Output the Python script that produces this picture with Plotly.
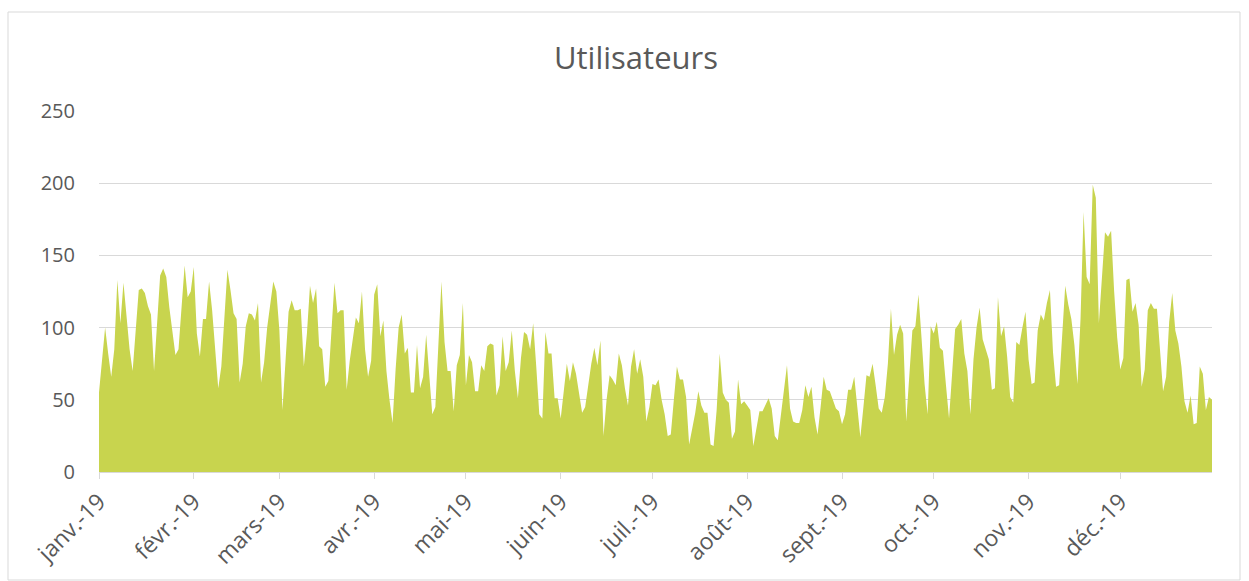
import plotly.graph_objects as go
import pandas as pd

# Daily users, 2019
jan = [55, 78, 100, 82, 66, 85, 133, 103, 131, 108, 85, 70, 95, 126, 127, 124, 115, 109, 70, 105, 136, 141, 135, 114, 98, 81, 85, 115, 143, 121, 125]
feb = [142, 96, 80, 106, 106, 132, 112, 84, 58, 73, 110, 140, 126, 110, 106, 62, 75, 101, 110, 109, 105, 117, 62, 76, 100, 116, 132, 125]
mar = [98, 43, 77, 111, 119, 112, 112, 113, 73, 96, 129, 117, 127, 87, 85, 59, 63, 96, 131, 110, 112, 112, 57, 77, 91, 107, 103, 125, 85, 66, 77]
apr = [123, 130, 94, 105, 70, 50, 34, 71, 100, 109, 82, 86, 55, 55, 88, 58, 66, 95, 65, 40, 45, 88, 132, 90, 70, 70, 42, 74, 81, 117]
may = [60, 81, 76, 56, 56, 74, 70, 87, 89, 88, 53, 60, 94, 70, 76, 98, 70, 51, 79, 97, 95, 85, 103, 73, 40, 37, 97, 82, 82, 51, 51]
jun = [37, 58, 75, 63, 76, 68, 55, 41, 45, 62, 75, 86, 74, 91, 25, 50, 67, 64, 60, 82, 74, 58, 46, 73, 85, 68, 78, 66, 35, 45]
jul = [61, 60, 64, 50, 40, 25, 26, 50, 73, 64, 64, 52, 19, 30, 41, 56, 46, 41, 41, 19, 18, 43, 82, 55, 50, 48, 23, 28, 64, 47, 49]
aug = [46, 43, 18, 30, 42, 42, 47, 51, 44, 25, 22, 40, 55, 74, 44, 35, 34, 34, 43, 60, 52, 59, 38, 26, 45, 66, 57, 56, 50, 44, 42]
sep = [33, 40, 57, 57, 66, 45, 24, 45, 67, 66, 75, 60, 44, 41, 52, 75, 113, 81, 95, 102, 96, 35, 65, 98, 101, 123, 93, 61, 40, 101]
oct_ = [96, 104, 86, 84, 60, 37, 68, 99, 102, 106, 82, 70, 40, 78, 100, 114, 92, 85, 78, 57, 58, 121, 94, 101, 80, 52, 48, 90, 88, 100, 111]
nov = [78, 61, 62, 98, 109, 105, 117, 126, 83, 59, 60, 97, 129, 116, 106, 88, 61, 106, 180, 135, 130, 199, 190, 103, 134, 166, 163, 167, 125, 93]
dec = [71, 79, 133, 134, 111, 117, 102, 59, 71, 112, 117, 113, 113, 87, 56, 66, 104, 124, 98, 89, 73, 49, 41, 53, 33, 34, 73, 68, 43, 52, 50]

users = jan + feb + mar + apr + may + jun + jul + aug + sep + oct_ + nov + dec
dates = pd.date_range("2019-01-01", periods=len(users), freq="D")

tick_dates = pd.date_range("2019-01-01", periods=12, freq="MS")
tick_labels = ["janv.-19", "févr.-19", "mars-19", "avr.-19", "mai-19", "juin-19",
               "juil.-19", "août-19", "sept.-19", "oct.-19", "nov.-19", "déc.-19"]
y_ticks = [0, 50, 100, 150, 200, 250]

GREEN = "#c8d44e"
GRID = "#d9d9d9"
TEXT = "#595959"
FONT = "Open Sans, Lato, sans-serif"

fig = go.Figure()
fig.add_trace(go.Scatter(
    x=dates, y=users, mode="lines", fill="tozeroy",
    line=dict(width=0, color=GREEN), fillcolor=GREEN,
    hoverinfo="x+y", showlegend=False,
))

W, H = 1249, 581
ml, mr, mt, mb = 99, 37, 111, 109
pw, ph = W - ml - mr, H - mt - mb

fig.update_layout(
    width=W, height=H, autosize=False,
    margin=dict(l=ml, r=mr, t=mt, b=mb, pad=0),
    paper_bgcolor="white", plot_bgcolor="white",
    font=dict(family=FONT, color=TEXT),
    title=dict(text="Utilisateurs", x=636 / W, xanchor="center", y=1 - 58 / H, yanchor="middle",
               font=dict(size=31, color=TEXT, family=FONT), automargin=False),
    xaxis=dict(
        type="date", range=[dates[0], dates[-1]],
        tickmode="array", tickvals=tick_dates, ticktext=tick_labels,
        tickangle=-45, tickfont=dict(size=23, color=TEXT),
        ticks="outside", ticklen=6, tickcolor=GRID, tickwidth=1,
        showgrid=False, showline=True, linecolor=GRID, linewidth=1,
        zeroline=False, fixedrange=True, automargin=False,
    ),
    yaxis=dict(
        range=[0, 250], tickmode="array", tickvals=y_ticks,
        tickfont=dict(size=20, color=TEXT),
        ticks="outside", ticklen=19, tickcolor="rgba(0,0,0,0)",
        showgrid=True, gridcolor=GRID, gridwidth=1,
        zeroline=False, showline=False, fixedrange=True, automargin=False,
    ),
)

# outer chart border
fig.add_shape(type="rect", xref="paper", yref="paper",
              x0=(8 - ml) / pw, x1=(1240 - ml) / pw,
              y0=(H - mb - 580) / ph, y1=(H - mb - 12) / ph,
              line=dict(color=GRID, width=1), fillcolor="rgba(0,0,0,0)", layer="below")

fig.write_html("out.html", config={"displayModeBar": False},
               post_script="document.body.style.margin='0';")
